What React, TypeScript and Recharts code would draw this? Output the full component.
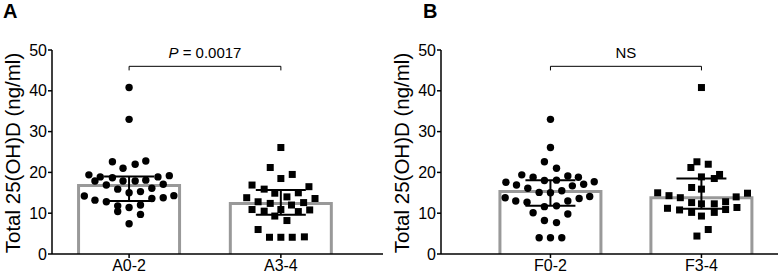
import { ComposedChart, Bar, ErrorBar, Scatter, XAxis, YAxis, Label } from "recharts";

const FONT = '"Liberation Sans", Arial, Helvetica, sans-serif';
const Y_TICKS = [0, 10, 20, 30, 40, 50];
const Y_TITLE = "Total 25(OH)D (ng/ml)";

// panel A
const A_GROUPS = ["A0-2", "A3-4"];
const A_BAR = [16.8, 12.4];
const A_UPPER = [19.0, 15.7];
const A_LOWER = [13.0, 9.6];

const A02_VALUES = [
  40.8, 33.0, 22.6, 22.8, 22.0, 21.0, 19.4, 19.2, 18.9, 18.9, 18.7, 17.9, 17.9, 17.9, 18.1, 16.9, 17.1,
  15.9, 16.1, 15.0, 15.3, 14.2, 14.3, 13.2, 13.8, 12.8, 13.6, 11.8, 11.4, 12.0, 10.4, 9.7, 7.4,
];
const A02_SPREAD = [
  0, 0, -0.11, 0.11, 0.04, -0.04, -0.265, 0.265, -0.19, 0.19, -0.11, -0.225, -0.04, 0.04, 0.11, -0.15, 0.225,
  -0.075, 0.15, 0, 0.075, -0.295, 0.295, -0.225, 0.225, -0.15, 0.15, -0.075, 0, 0.075, -0.075, 0.075, 0,
];
const A34_VALUES = [
  26.1, 21.2, 18.5, 19.5, 16.9, 15.9, 16.5, 14.9, 15.0, 13.8, 13.6, 14.0, 12.8, 12.4, 12.0, 12.6, 10.9,
  10.5, 10.9, 10.4, 10.8, 9.3, 8.2, 6.0, 4.1, 4.1, 4.1, 4.2,
];
const A34_SPREAD = [
  0, -0.07, 0, 0.075, -0.19, -0.11, 0.185, -0.04, 0.115, -0.225, 0.225, 0.04, -0.15, -0.07, 0.07, 0.15, -0.19,
  -0.11, 0, 0.115, 0.19, -0.04, 0.04, -0.15, -0.075, 0, 0.075, 0.155,
];

// panel B
const B_GROUPS = ["F0-2", "F3-4"];
const B_BAR = [15.3, 13.8];
const B_UPPER = [18.1, 18.5];
const B_LOWER = [11.8, 11.1];

const F02_VALUES = [
  33.0, 26.1, 22.6, 21.0, 19.4, 18.8, 19.1, 18.8, 18.0, 18.1, 17.6, 17.7, 16.9, 16.1, 16.7, 17.1, 15.1,
  15.0, 15.5, 13.8, 14.1, 13.0, 12.7, 13.0, 13.6, 11.6, 11.8, 10.1, 9.8, 8.2, 7.7, 4.0, 4.0, 4.0,
];
const F02_SPREAD = [
  0, 0, -0.04, 0.04, -0.19, -0.115, 0.115, 0.185, -0.04, 0.04, -0.295, 0.29, -0.225, -0.15, 0.145, 0.22, -0.075,
  0, 0.075, -0.3, 0.26, -0.23, -0.155, 0.115, 0.19, -0.04, 0.04, -0.115, 0.115, -0.04, 0.04, -0.075, 0, 0.075,
];
const F34_VALUES = [
  40.8, 22.6, 21.2, 22.0, 19.5, 18.5, 18.9, 16.3, 15.9, 15.0, 14.9, 14.3, 13.8, 14.0, 12.6, 12.3, 12.3,
  12.8, 11.2, 10.8, 10.2, 10.2, 10.9, 11.4, 9.3, 6.0, 4.4,
];
const F34_SPREAD = [
  0, -0.03, -0.07, 0.045, 0.12, 0.085, 0, -0.065, 0, -0.29, 0.305, -0.215, -0.14, 0.23, -0.065, 0, 0.085,
  0.16, -0.225, -0.145, -0.065, 0.085, 0.16, 0.235, 0, 0.045, -0.03,
];

const BRACKET_TOP = 46.0;
const BRACKET_FOOT = 45.0;
const NOTE_AT = 48.0;

// numeric x axis gives the bars no band, so draw them at a fixed width around the computed centre
const BAR_W = 101;
const barShape = (p: any) => {
  const cx = p.x + p.width / 2;
  const l = cx - BAR_W / 2;
  const r = cx + BAR_W / 2;
  const top = p.y;
  const base = p.y + p.height;
  return <path d={`M${l},${base}V${top}H${r}V${base}`} fill="#fff" stroke="#999" strokeWidth={3} />;
};

const dot = (p: any) => <circle cx={p.cx} cy={p.cy} r={3.7} fill="#000" />;
const square = (p: any) => <rect x={p.cx - 3.5} y={p.cy - 3.5} width={7} height={7} fill="#000" />;
const noMark = () => <g />;

const yTitle = (props: any) => {
  const vb = props.viewBox;
  const cx = vb.x + 12;
  const cy = vb.y + vb.height / 2 + 1;
  return (
    <text
      x={cx}
      y={cy}
      transform={`rotate(-90, ${cx}, ${cy})`}
      textAnchor="middle"
      dominantBaseline="central"
      fontSize={20.5}
      fontFamily={FONT}
      fill="#000"
    >
      {Y_TITLE}
    </text>
  );
};

type PanelProps = {
  width: number;
  groups: string[];
  bar: number[];
  upper: number[];
  lower: number[];
  values: number[][];
  spread: number[][];
  marks: ((p: any) => any)[];
  domain: [number, number];
  right: number;
  note: "p" | "ns";
};

function Panel({ width, groups, bar, upper, lower, values, spread, marks, domain, right, note }: PanelProps) {
  const bars = groups.map((g, i) => ({
    x: i + 1,
    name: g,
    mean: bar[i],
    err: [bar[i] - lower[i], upper[i] - bar[i]],
  }));
  const bracket = [
    { x: 1, v: BRACKET_FOOT },
    { x: 1, v: BRACKET_TOP },
    { x: 2, v: BRACKET_TOP },
    { x: 2, v: BRACKET_FOOT },
  ];
  const axisStyle = { stroke: "#000", strokeWidth: 1.5 };
  const tick = { fill: "#000", fontSize: 16, fontFamily: FONT };

  const noteShape = (p: any) => (
    <text x={p.cx} y={p.cy} textAnchor="middle" fontSize={15} fontFamily={FONT} fill="#000">
      {note === "p" ? (
        <>
          <tspan fontStyle="italic">P</tspan> = 0.0017
        </>
      ) : (
        "NS"
      )}
    </text>
  );

  return (
    <ComposedChart width={width} height={276} data={bars} margin={{ top: 50, right, bottom: 0, left: 0 }}>
      <Bar dataKey="mean" barSize={BAR_W} shape={barShape} isAnimationActive={false}>
        <ErrorBar dataKey="err" direction="y" width={25} stroke="#000" strokeWidth={2} />
      </Bar>
      {values.map((vals, i) => (
        <Scatter
          key={groups[i]}
          data={vals.map((v, j) => ({ x: i + 1 + spread[i][j], v }))}
          dataKey="v"
          shape={marks[i]}
          isAnimationActive={false}
        />
      ))}
      <Scatter
        data={bracket}
        dataKey="v"
        line={{ stroke: "#000", strokeWidth: 1 }}
        shape={noMark}
        isAnimationActive={false}
      />
      <Scatter data={[{ x: 1.5, v: NOTE_AT }]} dataKey="v" shape={noteShape} isAnimationActive={false} />
      <XAxis
        dataKey="x"
        type="number"
        domain={domain}
        ticks={[1, 2]}
        interval={0}
        tickFormatter={(v: number) => groups[v - 1] ?? ""}
        axisLine={axisStyle}
        tickLine={axisStyle}
        tickSize={4}
        tickMargin={2}
        tick={tick}
        height={22}
      />
      <YAxis
        type="number"
        domain={[0, 50]}
        ticks={Y_TICKS}
        interval={0}
        axisLine={axisStyle}
        tickLine={axisStyle}
        tickSize={4}
        tickMargin={1}
        tick={tick}
        width={52}
      >
        <Label content={yTitle} />
      </YAxis>
    </ComposedChart>
  );
}

const letter = (left: number): any => ({
  position: "absolute",
  left,
  top: 0.5,
  fontFamily: FONT,
  fontWeight: "bold",
  fontSize: 20,
  lineHeight: 1,
});

export default function App() {
  return (
    <div style={{ position: "absolute", left: 0, top: 0, width: 781, height: 276, background: "#fff" }}>
      <div style={{ position: "absolute", left: 0, top: 0 }}>
        <Panel
          width={390}
          groups={A_GROUPS}
          bar={A_BAR}
          upper={A_UPPER}
          lower={A_LOWER}
          values={[A02_VALUES, A34_VALUES]}
          spread={[A02_SPREAD, A34_SPREAD]}
          marks={[dot, square]}
          domain={[0.492, 2.673]}
          right={7}
          note="p"
        />
      </div>
      <div style={{ position: "absolute", left: 389, top: 0 }}>
        <Panel
          width={392}
          groups={B_GROUPS}
          bar={B_BAR}
          upper={B_UPPER}
          lower={B_LOWER}
          values={[F02_VALUES, F34_VALUES]}
          spread={[F02_SPREAD, F34_SPREAD]}
          marks={[dot, square]}
          domain={[0.275, 2.507]}
          right={3}
          note="ns"
        />
      </div>
      <div style={letter(3)}>A</div>
      <div style={letter(423)}>B</div>
    </div>
  );
}
